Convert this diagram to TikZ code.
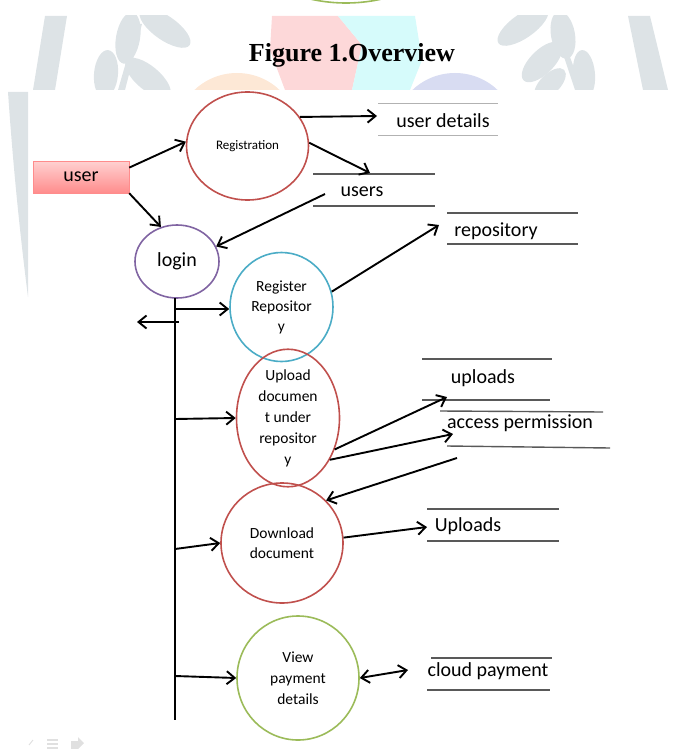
\documentclass[tikz,border=0pt]{standalone}
\usepackage{fontspec}
\setmainfont{Carlito}
\newfontfamily\titlefont{Liberation Serif}
\usetikzlibrary{arrows.meta,shapes.geometric}
\definecolor{procred}{HTML}{C0504D}
\definecolor{procpurple}{HTML}{8064A2}
\definecolor{proccyan}{HTML}{4BACC6}
\definecolor{procgreen}{HTML}{9BBB59}
\definecolor{markgray}{HTML}{DDE3E6}
\definecolor{markpink}{HTML}{FDD8D9}
\definecolor{markcyan}{HTML}{D6FBFB}
\definecolor{markpeach}{HTML}{FDE8D6}
\definecolor{marklilac}{HTML}{D8DCF2}
\begin{document}
\begin{tikzpicture}[x=1pt,y=-1pt,>={Straight Barb[length=8pt,width=13pt]}]
\tikzset{proc/.style={ellipse,draw,line width=1.6pt,inner sep=0pt,align=center}}
\tikzset{flow/.style={->,line width=1.9pt}}
\tikzset{store/.style={font=\fontsize{20}{24}\selectfont}}
\tikzset{storeline/.style={line width=1.4pt,draw=black!65}}
\tikzset{leaf/.style={fill=markgray}}
%\tikzset{store/.style={draw,minimum width=120pt}}
\useasboundingbox (0,0) rectangle (677,749);

% watermark band behind the title
\begin{scope}
\clip (0,16) rectangle (677,90);
\fill[markgray] (45,16) -- (67,16) -- (55,90) -- (33,90) -- cycle;
\fill[markgray] (628,16) -- (650,16) -- (668,90) -- (643,90) -- cycle;
\fill[leaf] (118,90) -- (137,24) -- (142,24) -- (125,90) -- cycle;
\fill[leaf, rotate around={-10:(128,38)}] (128,38) ellipse (12 and 26);
\fill[leaf, rotate around={55:(165,28)}] (165,28) ellipse (12 and 30);
\fill[leaf, rotate around={-5:(106,74)}] (106,74) ellipse (12 and 24);
\fill[leaf, rotate around={50:(148,78)}] (148,78) ellipse (12 and 28);
\fill[leaf] (575,90) -- (553,24) -- (558,24) -- (582,90) -- cycle;
\fill[leaf, rotate around={-55:(523,26)}] (523,26) ellipse (12 and 30);
\fill[leaf, rotate around={10:(563,35)}] (563,35) ellipse (12 and 24);
\fill[leaf, rotate around={-45:(542,62)}] (542,62) ellipse (12 and 26);
\fill[leaf, rotate around={5:(584,74)}] (584,74) ellipse (11 and 24);
\fill[leaf, rotate around={-45:(550,84)}] (550,84) ellipse (10 and 20);
\fill[markpink] (272,16) -- (338,16) -- (362,45) -- (352,90) -- (285,90) -- (270,50) -- cycle;
\fill[markcyan] (338,16) -- (415,16) -- (422,60) -- (410,90) -- (352,90) -- (362,45) -- cycle;
\fill[markpeach] (237,135) circle (62);
\fill[marklilac] (455,135) circle (62);
\end{scope}
\fill[markgray] (8,92) .. controls (14,180) and (22,250) .. (28,297) -- (28,92) -- cycle;
\begin{scope}
\clip (0,0) rectangle (677,16);
\draw[procgreen, line width=1.6pt] (346,-158) circle (161);
\end{scope}

\node[font=\titlefont\bfseries\fontsize{26}{30}\selectfont] (title) at (352,55) {Figure 1.Overview};

% processes
\node[draw=red!45, top color=red!18, bottom color=red!45, minimum width=96pt, minimum height=32pt,
      font=\fontsize{20}{24}\selectfont] (user) at (81,177) {user};
\node[proc, draw=procred, minimum width=122pt, minimum height=108pt, font=\fontsize{13}{16}\selectfont] (reg) at (247.5,146) {Registration};
\node[proc, draw=procpurple, minimum width=84pt, minimum height=73pt, font=\fontsize{20}{24}\selectfont] (login) at (177,261.5) {login};
\node[proc, draw=proccyan, minimum width=103pt, minimum height=109pt, font=\fontsize{15.5}{20}\selectfont] (regrepo) at (281.5,307) {Register\\Repositor\\y};
\node[proc, draw=procred, minimum width=103pt, minimum height=104pt, font=\fontsize{15.5}{21}\selectfont] (upload) at (288,418) {Upload\\documen\\t under\\repositor\\y};
\node[proc, draw=procred, minimum width=122pt, minimum height=120pt, font=\fontsize{15.5}{20}\selectfont] (download) at (282,543) {Download\\document};
\node[proc, draw=procgreen, minimum width=122pt, minimum height=124pt, font=\fontsize{15.5}{21}\selectfont] (view) at (298,678) {View\\payment\\details};

% data stores
\node[store] (details) at (443,121) {user details};
\draw[storeline, draw=black!30, line width=1pt] (378,104) -- (498,104) (378,135) -- (498,135);
\node[store] (users) at (362,192) {users};
\draw[storeline] (313,174) -- (435,174) (313,206) -- (435,206);
\node[store] (repo) at (496,231) {repository};
\draw[storeline] (447,213) -- (578,213) (447,244) -- (578,244);
\node[store] (uploads) at (483,378) {uploads};
\draw[storeline] (422,359) -- (552,359) (422,400) -- (550,400);
\node[store] (access) at (520,423) {access permission};
\draw[storeline] (440,411) -- (603,412) (447,446) -- (610,448);
\node[store] (uploads2) at (468,526) {Uploads};
\draw[storeline] (427,509) -- (559,509) (427,541) -- (559,541);
\node[store] (cloud) at (488,671) {cloud payment};
\draw[storeline] (431,658) -- (552,658) (427,690) -- (550,690);

% free ends of the flows
\coordinate (detailsIn) at (377,116);
\coordinate (usersIn) at (370,173);
\coordinate (usersOut) at (325,194);
\coordinate (repoIn) at (439,225);
\coordinate (uploadsIn) at (447,397);
\coordinate (accessIn) at (453,434);
\coordinate (accessOut) at (457,458);
\coordinate (uploads2In) at (427,527);
\coordinate (cloudIn) at (408,670);
\coordinate (busTop) at (175,298);
\coordinate (busEnd) at (175,720);
\coordinate (b1) at (175,309);
\coordinate (b2) at (179,322);
\coordinate (leftOut) at (137,322);
\coordinate (b3) at (175,419);
\coordinate (b4) at (175,549);
\coordinate (b5) at (175,676);

% flows
\draw[flow] (user.11) -- (reg.176);
\draw[flow] (user.south east) -- (login.115);
\draw[flow] (usersOut) -- (login.21);
\draw[flow] (reg.29) -- (detailsIn);
\draw[flow] (reg.3) -- (usersIn);
\draw[flow] (regrepo.17) -- (repoIn);
\draw[line width=2pt] (busTop) -- (busEnd);
\draw[flow] (b1) -- (regrepo.west |- b1);
\draw[flow] (b2) -- (leftOut);
\draw[flow] (b3) -- (upload.west);
\draw[flow] (b4) -- (download.west);
\draw[flow] (b5) -- (view.west);
\draw[flow] (upload.-34) -- (uploadsIn);
\draw[flow] (upload.-45) -- (accessIn);
\draw[flow] (accessOut) -- (download.44);
\draw[flow] (download.5) -- (uploads2In);
\draw[flow, <->] (view.east) -- (cloudIn);

% page icons
\draw[black!12, line width=1pt] (29,745) -- (33,740);
\draw[black!12, line width=1.5pt] (47,740) -- (58,740) (47,744) -- (58,744) (47,748) -- (58,748);
\fill[black!12] (71,741) -- (78,741) -- (78,737) -- (84,743) -- (78,749) -- (71,749) -- cycle;
\end{tikzpicture}
\end{document}
